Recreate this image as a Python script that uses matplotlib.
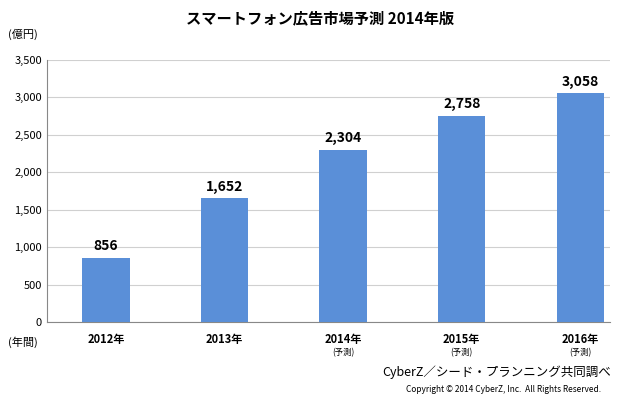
import matplotlib
matplotlib.use("Agg")
import matplotlib.pyplot as plt

plt.rcParams["font.family"] = "Noto Sans CJK JP"

years = ["2012年", "2013年", "2014年", "2015年", "2016年"]
subs = ["", "", "(予測)", "(予測)", "(予測)"]
values = [856, 1652, 2304, 2758, 3058]
yticks = [0, 500, 1000, 1500, 2000, 2500, 3000, 3500]

fig = plt.figure(figsize=(6.4, 4.0), dpi=100)
ax = fig.add_axes([0.073, 0.195, 0.88, 0.655])
x = list(range(len(values)))
ax.bar(x, values, width=0.4, color="#5A8FD8", zorder=3)
for xi, v in zip(x, values):
    ax.text(xi, v + 60, f"{v:,}", ha="center", va="bottom", fontsize=10, fontweight="bold")
ax.set_xlim(-0.5, 4.25)
ax.set_ylim(0, 3500)
ax.set_yticks(yticks)
ax.set_yticklabels([f"{t:,}" for t in yticks], fontsize=8)
ax.yaxis.grid(True, color="#d0d0d0", linewidth=0.8, zorder=0)
ax.set_xticks(x)
ax.set_xticklabels(years, fontsize=8, fontweight="bold")
for xi, s in zip(x, subs):
    if s:
        ax.text(xi, -0.1, s, transform=ax.get_xaxis_transform(), ha="center", va="top", fontsize=6)
ax.tick_params(axis="x", length=0, pad=8)
ax.tick_params(axis="y", length=0)
for sp in ["top", "right"]:
    ax.spines[sp].set_visible(False)
ax.spines["left"].set_color("#888888")
ax.spines["bottom"].set_color("#888888")
fig.text(0.5, 0.955, "スマートフォン広告市場予測 2014年版", ha="center", va="center", fontsize=11, fontweight="bold")
fig.text(0.012, 0.915, "(億円)", fontsize=8, va="center")
fig.text(0.012, 0.145, "(年間)", fontsize=8, va="center")
fig.text(0.955, 0.07, "CyberZ／シード・プランニング共同調べ", ha="right", va="center", fontsize=9)
fig.text(0.94, 0.027, "Copyright © 2014 CyberZ, Inc.  All Rights Reserved.", ha="right", va="center", fontsize=6)
fig.savefig("out.png", dpi=100)
